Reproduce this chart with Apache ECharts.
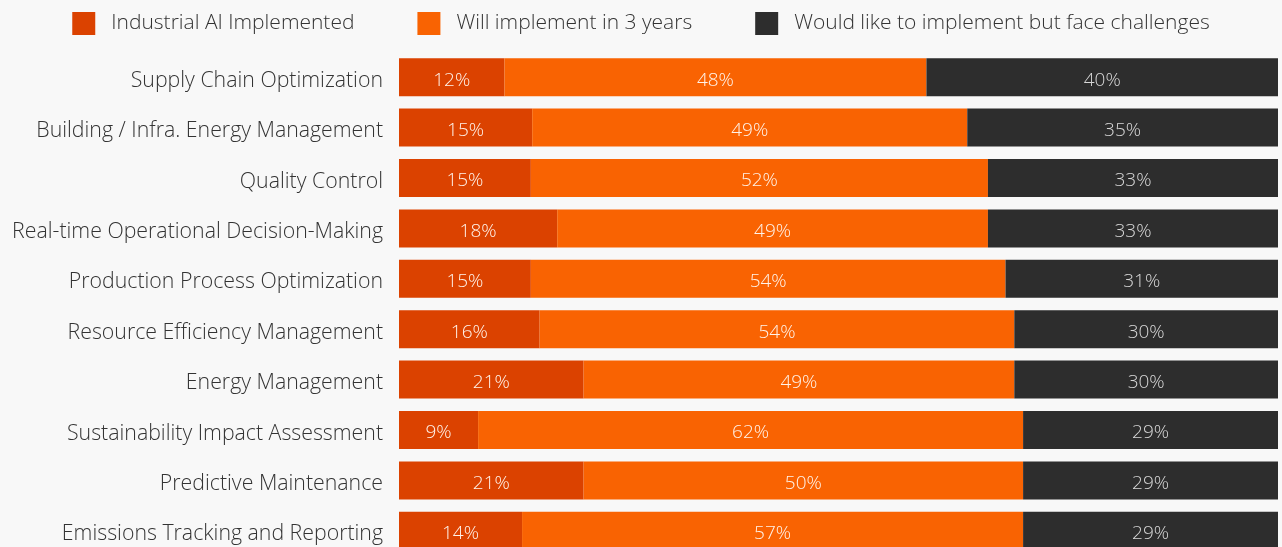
<!DOCTYPE html>
<html><head><meta charset="utf-8">
<script src="https://cdn.jsdelivr.net/npm/echarts@6/dist/echarts.min.js"></script>
<style>html,body{margin:0;padding:0;background:#f8f8f8;overflow:hidden}#c{width:1282px;height:560px}</style>
</head><body><div id="c"></div>
<script>
const categories = ["Supply Chain Optimization","Building / Infra. Energy Management","Quality Control","Real-time Operational Decision-Making","Production Process Optimization","Resource Efficiency Management","Energy Management","Sustainability Impact Assessment","Predictive Maintenance","Emissions Tracking and Reporting"];
const implemented = [12,15,15,18,15,16,21,9,21,14];
const willImplement = [48,49,52,49,54,54,49,62,50,57];
const challenges = [40,35,33,33,31,30,30,29,29,29];
const seriesNames = ["Industrial AI Implemented","Will implement in 3 years","Would like to implement but face challenges"];
const colors = ["#db4200","#f96302","#2d2d2d"];

const raw = [implemented, willImplement, challenges];
const totals = categories.map((_, i) => raw.reduce((s, a) => s + a[i], 0));
const FONT = "Open Sans";
const series = raw.map((arr, k) => ({
  name: seriesNames[k], type: 'bar', stack: 'all', barWidth: 38,
  itemStyle: {color: colors[k]},
  data: arr.map((v, i) => ({value: v / totals[i] * 100, raw: v})),
  label: {show: true, position: 'inside', offset: [0, 3], fontFamily: FONT, fontWeight: 300, fontSize: 19,
    color: k === 2 ? '#d8d8d8' : '#fff3ea',
    formatter: p => p.data.raw + '%'}
}));
const chart = echarts.init(document.getElementById('c'));
chart.setOption({
  backgroundColor: '#f8f8f8',
  animation: false,
  legend: {top: 7, left: 'center', itemWidth: 23, itemHeight: 23, itemGap: 63,
    icon: 'rect', textStyle: {fontFamily: FONT, fontWeight: 300, fontSize: 21, color: '#333', padding: [0,0,0,11]}},
  grid: {left: 399, right: 4, top: 52, bottom: 4, containLabel: false},
  xAxis: {type: 'value', min: 0, max: 100, show: false},
  yAxis: {type: 'category', data: categories, inverse: true,
    axisLine: {show: false}, axisTick: {show: false},
    axisLabel: {margin: 16, verticalAlign: 'top', lineHeight: 7, fontFamily: FONT, fontWeight: 300, fontSize: 21.3, color: '#333'}},
  series: series
});
</script></body></html>
